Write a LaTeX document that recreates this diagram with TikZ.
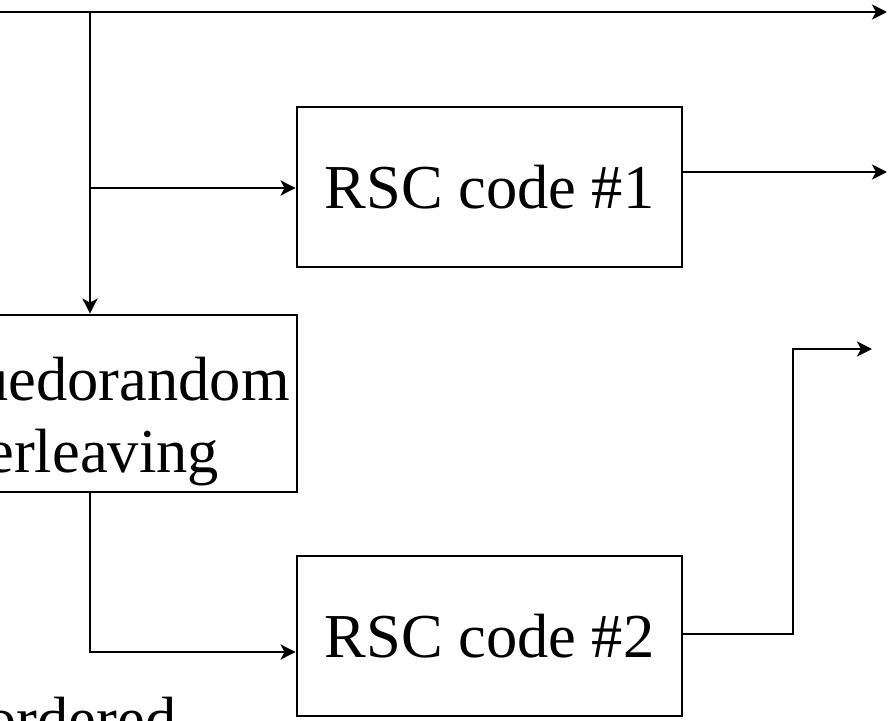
\documentclass[tikz,border=0pt]{standalone}
\usepackage{fontspec}
\setmainfont{Liberation Serif}
\usetikzlibrary{arrows.meta}
\begin{document}
\begin{tikzpicture}[x=1pt,y=-1pt,
  line width=2.8pt,
  conn/.style={-{Stealth[length=15pt,width=15pt,inset=4pt]}},
  blockbox/.style={draw,rectangle,inner sep=0pt,minimum width=385pt,minimum height=160pt,
    font=\fontsize{62.5}{72}\selectfont},
  lbl/.style={inner sep=0pt,anchor=base west,font=\fontsize{62.5}{72}\selectfont}]
\useasboundingbox (0,0) rectangle (888,720);
\clip (0,0) rectangle (888,720);
% blocks
\node[blockbox] (enc1) at (489.5,187) {RSC code \#1};
\node[blockbox] (enc2) at (489.5,636) {RSC code \#2};
\node[draw,rectangle,inner sep=0pt,minimum width=407pt,minimum height=177pt] (intl) at (93.5,403.5) {};
% labels (cut by the picture's edge, as in the reference)
\node[lbl] (t1) at (-24,400) {uedorandom};
\node[lbl] (t2) at (-15,472) {erleaving};
\node[lbl] (t3) at (-16,740) {ordered};
% coordinates
\coordinate (in0) at (0,12);
\coordinate (split) at (90,12);
\coordinate (tap1) at (90,188);
\coordinate (out0) at (887,12);
\coordinate (out1) at (887,172);
\coordinate (bend2) at (90,652);
\coordinate (up2) at (793,634);
\coordinate (top2) at (793,349);
\coordinate (out2) at (872,349);
% connectors
\draw[conn] (in0) -- (out0);
\draw[conn] (split) -- (split |- intl.north);
\draw[conn] (tap1) -- (tap1 -| enc1.west);
\draw[conn] (enc1.east |- out1) -- (out1);
\draw[conn] (split |- intl.south) -- (bend2) -- (bend2 -| enc2.west);
\draw[conn] (enc2.east |- up2) -- (up2) -- (top2) -- (out2);
\end{tikzpicture}
\end{document}
